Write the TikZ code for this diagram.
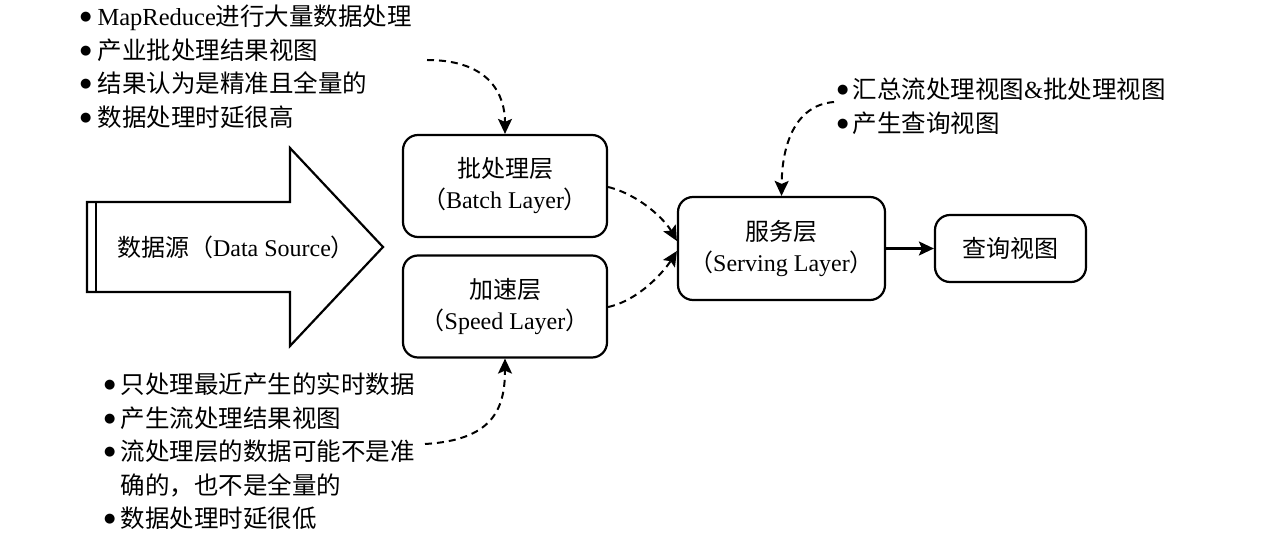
\documentclass[tikz,border=0pt]{standalone}
\usepackage{fontspec}
\setmainfont{Liberation Serif}
\newfontfamily\cjk{Noto Sans CJK SC}
\newfontfamily\sym{DejaVu Sans}
\newcommand\zh[1]{{\cjk #1}}
\newcommand\bul{\raisebox{5pt}{\sym\fontsize{13}{13}\selectfont ●}}
\usetikzlibrary{arrows.meta}
\begin{document}
\begin{tikzpicture}[x=1pt,y=-1pt,
  box/.style={draw,line width=2.2pt,rounded corners=15pt,minimum width=204pt,minimum height=102pt,align=center,font=\fontsize{24}{31}\selectfont,inner sep=0pt},
  tip/.style={-{Stealth[length=15pt,width=14pt,inset=3pt]}},
  dashlink/.style={line width=2pt,dash pattern=on 7pt off 5pt,tip},
  solidlink/.style={line width=2.2pt,tip},
  notes/.style={inner sep=0pt,font=\fontsize{24.5}{33.5}\selectfont,anchor=north west}]
\useasboundingbox (0,0) rectangle (1280,545);
% big arrow
\draw[line width=2.2pt,line join=miter] (87,202) -- (290,202) -- (290,148) -- (383,247) -- (290,346) -- (290,292) -- (87,292) -- cycle;
\draw[line width=2.2pt] (96,202) -- (96,292);
\node[font=\fontsize{24}{26}\selectfont] (src) at (236,247) {\zh{数据源（}Data Source\zh{）}};
% boxes
\node[box] (batch) at (505,186) {\zh{批处理层}\\\zh{（}Batch Layer\zh{）}};
\node[box] (speed) at (505,306.5) {\zh{加速层}\\\zh{（}Speed Layer\zh{）}};
\node[box,minimum width=207pt,minimum height=103pt] (serve) at (781.5,248.5) {\zh{服务层}\\\zh{（}Serving Layer\zh{）}};
\node[box,minimum width=151pt,minimum height=67pt] (query) at (1010.5,248.5) {\zh{查询视图}};
% notes
\node[notes] (nbatch) at (80,2) {\begin{tabular}{@{}l@{\hspace{6pt}}l@{}}
\bul & MapReduce\zh{进行大量数据处理}\\
\bul & \zh{产业批处理结果视图}\\
\bul & \zh{结果认为是精准且全量的}\\
\bul & \zh{数据处理时延很高}
\end{tabular}};
\node[notes] (nserve) at (837,75) {\begin{tabular}{@{}l@{\hspace{4pt}}l@{}}
\bul & \zh{汇总流处理视图}\&\zh{批处理视图}\\
\bul & \zh{产生查询视图}
\end{tabular}};
\node[notes] (nspeed) at (104,370) {\begin{tabular}{@{}l@{\hspace{5pt}}l@{}}
\bul & \zh{只处理最近产生的实时数据}\\
\bul & \zh{产生流处理结果视图}\\
\bul & \zh{流处理层的数据可能不是准}\\
 & \zh{确的，也不是全量的}\\
\bul & \zh{数据处理时延很低}
\end{tabular}};
% connectors
\coordinate (c1) at (427,60);
\coordinate (c2) at (834,102);
\coordinate (c3) at (425,444);
\draw[dashlink] (c1) .. controls (490,60) and (505,95) .. (batch.north);
\draw[dashlink] (batch.east |- 0,187) .. controls (640,195) and (665,220) .. (serve.west |- 0,241);
\draw[dashlink] (speed.east |- 0,307) .. controls (640,300) and (665,270) .. (serve.west |- 0,251);
\draw[dashlink] (c2) .. controls (795,105) and (782,145) .. (serve.north);
\draw[dashlink] (c3) .. controls (492,440) and (505,410) .. (speed.south);
\draw[solidlink] (serve.east) -- (query.west);
\end{tikzpicture}
\end{document}
